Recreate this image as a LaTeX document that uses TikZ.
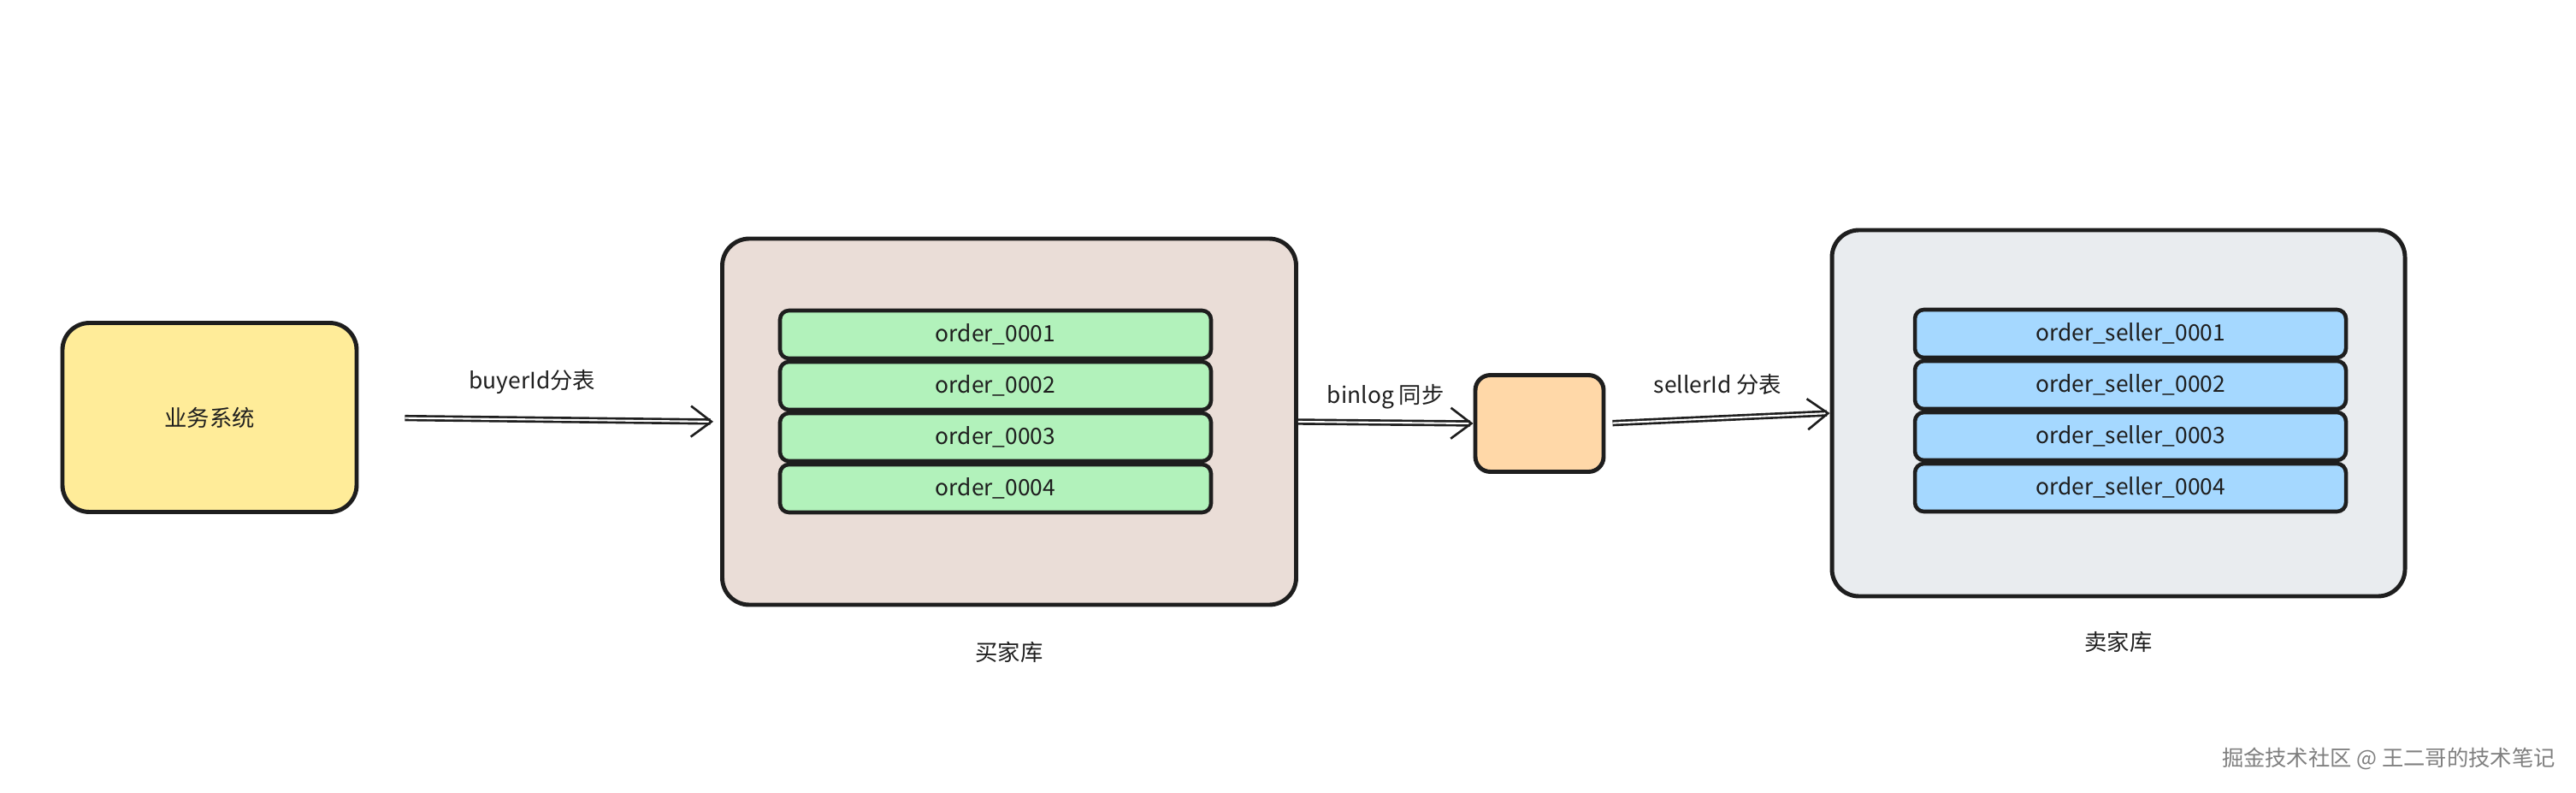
\documentclass[tikz,border=0pt]{standalone}
\usepackage{fontspec}
\setmainfont{Noto Sans CJK SC}
\usepackage{xcolor}
\usetikzlibrary{positioning,arrows.meta}
\definecolor{ink}{HTML}{1E1E1E}
\definecolor{yellow200}{HTML}{FFEC99}
\definecolor{brown100}{HTML}{EADDD7}
\definecolor{green200}{HTML}{B2F2BB}
\definecolor{orange200}{HTML}{FFD8A8}
\definecolor{gray100}{HTML}{E9ECEF}
\definecolor{blue200}{HTML}{A5D8FF}
\definecolor{mark500}{HTML}{7F7F7F}
\tikzset{
  every node/.style={font=\fontsize{7.5}{9}\selectfont, text=ink},
  box/.style={
    rectangle, rounded corners=9pt,
    draw=ink, line width=1.4pt,
    align=center
  },
  shard/.style={
    rectangle, rounded corners=3pt,
    draw=ink, line width=1.3pt, outer sep=0pt,
    minimum width=5.04cm, minimum height=0.56cm,
    align=center
  },
  flow/.style={
    -{Straight Barb[length=2.4mm,width=3.6mm]},
    line width=0.75pt, double, double distance=0.6pt, draw=ink
  },
}
\begin{document}
\begin{tikzpicture}[node distance=0.04cm]
  \useasboundingbox (0,0) rectangle (30.12,9.26);

  \node[box, fill=yellow200, minimum width=3.44cm, minimum height=2.21cm] (sys) at (2.45,4.38) {业务系统};
  \node[box, fill=brown100, minimum width=6.71cm, minimum height=4.28cm] (buyer) at (11.80,4.33) {};
  \node[box, fill=orange200, rounded corners=5pt, minimum width=1.50cm, minimum height=1.13cm] (sync) at (18.00,4.31) {};
  \node[box, fill=gray100, minimum width=6.70cm, minimum height=4.28cm] (seller) at (24.77,4.43) {};

  \node[shard, fill=green200] (b1) at (11.64,5.35) {order\_0001};
  \node[shard, fill=green200, below=of b1] (b2) {order\_0002};
  \node[shard, fill=green200, below=of b2] (b3) {order\_0003};
  \node[shard, fill=green200, below=of b3] (b4) {order\_0004};

  \node[shard, fill=blue200] (s1) at (24.91,5.36) {order\_seller\_0001};
  \node[shard, fill=blue200, below=of s1] (s2) {order\_seller\_0002};
  \node[shard, fill=blue200, below=of s2] (s3) {order\_seller\_0003};
  \node[shard, fill=blue200, below=of s3] (s4) {order\_seller\_0004};

  \node[below=0.28cm of buyer] (buyername) {买家库};
  \node[below=0.26cm of seller] (sellername) {卖家库};

  \draw[flow, shorten <=0.54cm, shorten >=0.08cm] (sys.east) -- (buyer.west) node[pos=0.48, above=0.17cm] {buyerId分表};
  \draw[flow] (buyer.east) -- (sync.west) node[midway, above=0.03cm] {binlog 同步};
  \draw[flow, shorten <=0.08cm] (sync.east) -- (seller.west) node[midway, above=0.14cm] {sellerId 分表};

  \node[anchor=east, text=mark500, font=\fontsize{7.2}{9}\selectfont] (mark) at (30.0,0.39) {掘金技术社区 @ 王二哥的技术笔记};
\end{tikzpicture}
\end{document}
